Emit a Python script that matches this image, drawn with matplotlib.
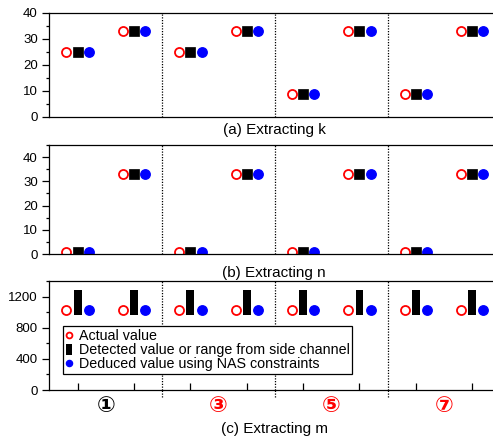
import matplotlib
matplotlib.use('Agg')
import matplotlib.pyplot as plt
import matplotlib.transforms as mtransforms
from matplotlib.ticker import MultipleLocator
import numpy as np

plt.rcParams['font.family'] = ['Liberation Sans', 'DejaVu Sans']

# positions 1..8, two per case
pos = np.arange(1, 9)
k_actual = [25, 33, 25, 33, 9, 33, 9, 33]
k_detect = [25, 33, 25, 33, 9, 33, 9, 33]
k_deduce = [25, 33, 25, 33, 9, 33, 9, 33]
n_actual = [1, 33, 1, 33, 1, 33, 1, 33]
n_detect = [1, 33, 1, 33, 1, 33, 1, 33]
n_deduce = [1, 33, 1, 33, 1, 33, 1, 33]
m_actual = [1024] * 8
m_range_lo = [960] * 8
m_range_hi = [1280] * 8
m_deduce = [1024] * 8
case_labels = ['①', '③', '⑤', '⑦']
case_colors = ['black', 'red', 'red', 'red']
captions = ['(a) Extracting k', '(b) Extracting n', '(c) Extracting m']

off = 0.2
fig = plt.figure(figsize=(4.93, 4.36), dpi=100)
ax_a = fig.add_axes([0.0994, 0.7317, 0.9006, 0.2385])
ax_b = fig.add_axes([0.0994, 0.4174, 0.9006, 0.25])
ax_c = fig.add_axes([0.0994, 0.1055, 0.9006, 0.25])

def style(ax, ylim, major, minor):
    ax.set_xlim(0.49, 8.37)
    ax.set_ylim(*ylim)
    ax.spines['right'].set_visible(False)
    for s in ['left', 'bottom', 'top']:
        ax.spines[s].set_linewidth(0.9)
    ax.yaxis.set_major_locator(MultipleLocator(major))
    ax.yaxis.set_minor_locator(MultipleLocator(minor))
    ax.tick_params(axis='y', which='major', length=5, width=0.9, labelsize=9.5, pad=3)
    ax.tick_params(axis='y', which='minor', length=2.5, width=0.9)
    for xv in [2.5, 4.5, 6.5]:
        ax.axvline(xv, color='black', ls=(0, (1, 1.2)), lw=0.9)

for ax, act, det, ded, yl in [(ax_a, k_actual, k_detect, k_deduce, (0, 40)),
                              (ax_b, n_actual, n_detect, n_deduce, (0, 45))]:
    style(ax, yl, 10, 5)
    ax.plot(pos - off, act, 'o', mfc='none', mec='red', mew=1.3, ms=6.5)
    ax.plot(pos, det, 's', color='black', ms=7, mew=0.5)
    ax.plot(pos + off, ded, 'o', color='blue', ms=6.8)
    ax.set_xticks([])

style(ax_c, (0, 1400), 400, 200)
h1, = ax_c.plot(pos - off, m_actual, 'o', mfc='none', mec='red', mew=1.3, ms=6.5)
h2 = ax_c.bar(pos, np.array(m_range_hi) - np.array(m_range_lo), bottom=m_range_lo, width=0.14,
              color='black')
h3, = ax_c.plot(pos + off, m_deduce, 'o', color='blue', ms=6.8)
ax_c.set_xticks(pos)
ax_c.set_xticklabels([])
ax_c.tick_params(axis='x', direction='in', length=5, width=0.9)
for xv in [2.5, 4.5, 6.5]:
    ax_c.axvline(xv, ymin=-0.06, ymax=0, color='black', ls=(0, (1, 1.2)), lw=0.9, clip_on=False)

leg = ax_c.legend([h1, h2, h3],
                  ['Actual value', 'Detected value or range from side channel',
                   'Deduced value using NAS constraints'],
                  loc='lower left', bbox_to_anchor=(0.031, 0.147), fontsize=10.3,
                  frameon=True, fancybox=False, edgecolor='black', framealpha=1,
                  handlelength=0.45, handleheight=0.8, handletextpad=0.45, labelspacing=0.0,
                  borderpad=0.2, borderaxespad=0, markerscale=0.65)
leg.get_frame().set_linewidth(0.9)

trans = mtransforms.blended_transform_factory(ax_c.transData, ax_c.transAxes)
for i, (lab, c) in enumerate(zip(case_labels, case_colors)):
    ax_c.text(1.5 + 2 * i, -0.147, lab, color=c, fontsize=16, ha='center', va='center',
              transform=trans, family=['DejaVu Sans'], fontweight='bold')

for cap, yy in zip(captions, [0.702, 0.374, 0.016]):
    fig.text(0.556, yy, cap, ha='center', va='center', fontsize=11)

fig.savefig('out.png', dpi=100)
